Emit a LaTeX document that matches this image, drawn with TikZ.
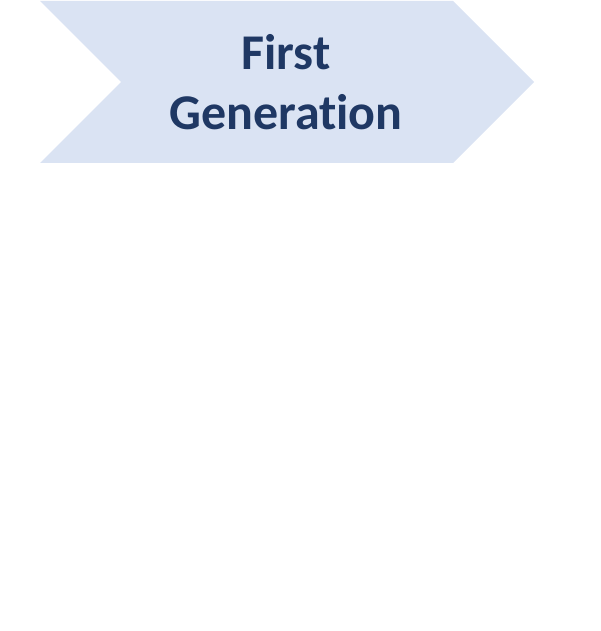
\documentclass[tikz,border=0pt]{standalone}
\usepackage{fontspec}
\setmainfont[Ligatures={NoCommon}]{Carlito}
\definecolor{chevfill}{HTML}{DAE3F3}
\definecolor{chevtext}{HTML}{1F3864}
\begin{document}
\begin{tikzpicture}[x=1pt,y=-1pt,
  chevlabel/.style={text=chevtext,font=\fontsize{50}{60}\selectfont\bfseries,anchor=base,inner sep=0pt}]
\useasboundingbox (0,0) rectangle (600,631);
\fill[chevfill] (40,1) -- (453,1) -- (534,82) -- (453,163) -- (40,163) -- (121,82) -- cycle;
\node[chevlabel] (l1) at (286,70) {First};
\node[chevlabel] (l2) at (286,130) {Generation};
\end{tikzpicture}
\end{document}
